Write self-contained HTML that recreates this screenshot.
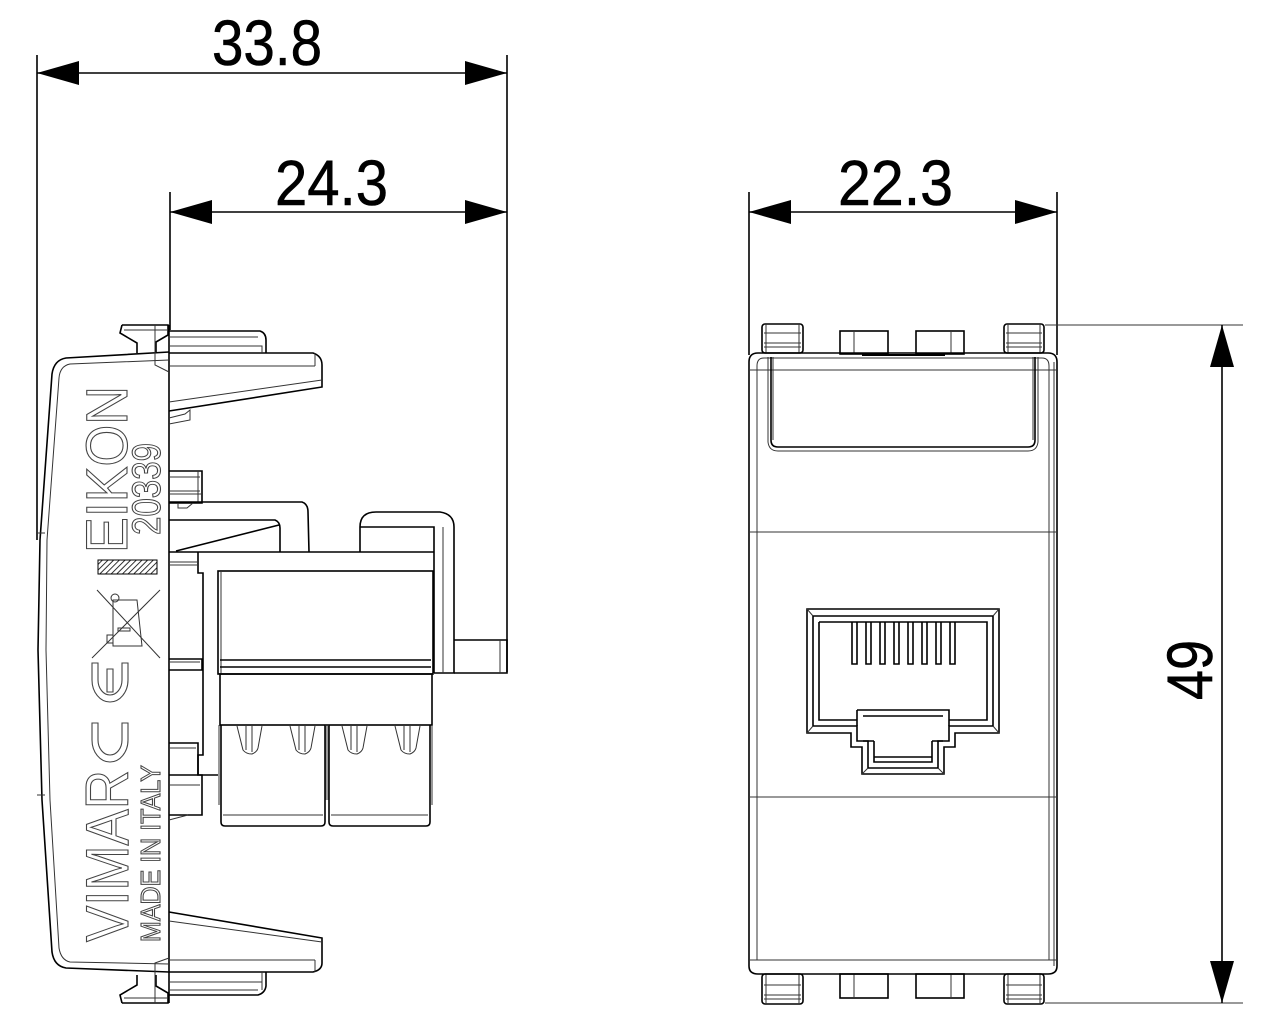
<!DOCTYPE html>
<html><head><meta charset="utf-8"><style>
html,body{margin:0;padding:0;background:#fff;width:1280px;height:1024px;overflow:hidden}
svg{display:block}
.k{fill:none;stroke:#000;stroke-width:1.6}
.t{fill:none;stroke:#333;stroke-width:1}
.g{fill:none;stroke:#444;stroke-width:1.1}
.d{font-family:"Liberation Sans",sans-serif;font-size:64px;fill:#000;stroke:#000;stroke-width:0.6}
.o{font-family:"Liberation Sans",sans-serif;fill:none;stroke:#444;stroke-width:1.1}
</style></head><body>
<svg width="1280" height="1024" viewBox="0 0 1280 1024" xmlns="http://www.w3.org/2000/svg">
<defs>
<pattern id="h" width="4" height="4" patternUnits="userSpaceOnUse" patternTransform="rotate(45)"><line x1="0" y1="0" x2="0" y2="4" stroke="#000" stroke-width="1.6"/></pattern>
</defs>
<!-- dimension 33.8 -->
<line class="k" x1="37" y1="55" x2="37" y2="540"/>
<line class="k" x1="507" y1="55" x2="507" y2="672"/>
<line class="k" x1="37" y1="73" x2="507" y2="73"/>
<polygon points="37,73 79,61 79,85" fill="#000"/>
<polygon points="507,73 465,61 465,85" fill="#000"/>
<text class="d" x="212" y="65" textLength="110" lengthAdjust="spacingAndGlyphs">33.8</text>
<!-- dimension 24.3 -->
<line class="k" x1="170" y1="192" x2="170" y2="330"/>
<line class="k" x1="170" y1="212" x2="507" y2="212"/>
<polygon points="170,212 212,200 212,224" fill="#000"/>
<polygon points="507,212 465,200 465,224" fill="#000"/>
<text class="d" x="275" y="205" textLength="113" lengthAdjust="spacingAndGlyphs">24.3</text>
<!-- dimension 22.3 -->
<line class="k" x1="749" y1="192" x2="749" y2="355"/>
<line class="k" x1="1057" y1="192" x2="1057" y2="355"/>
<line class="k" x1="749" y1="212" x2="1057" y2="212"/>
<polygon points="749,212 791,200 791,224" fill="#000"/>
<polygon points="1057,212 1015,200 1015,224" fill="#000"/>
<text class="d" x="838" y="205" textLength="115" lengthAdjust="spacingAndGlyphs">22.3</text>
<!-- dimension 49 -->
<line class="t" x1="1045" y1="325" x2="1243" y2="325"/>
<line class="t" x1="1045" y1="1003" x2="1243" y2="1003"/>
<line class="k" x1="1222" y1="325" x2="1222" y2="1003"/>
<polygon points="1222,325 1210,367 1234,367" fill="#000"/>
<polygon points="1222,1003 1210,961 1234,961" fill="#000"/>
<text class="d" transform="translate(1212,700) rotate(-90)" x="0" y="0" textLength="60" lengthAdjust="spacingAndGlyphs">49</text>

<!-- ===== LEFT SIDE VIEW ===== -->
<line class="k" x1="169" y1="325" x2="169" y2="1003"/>
<path class="k" d="M169,352 L66,358 Q54,360 52,374 L40,540 L38,650 L42,800 L52,952 Q54,966 66,968 L169,972"/>
<path class="t" d="M169,360 L70,364 Q60,366 59,378 L47,540 L46,650 L50,800 L59,948 Q61,960 70,962 L169,964"/>
<line class="t" x1="37" y1="533" x2="45" y2="533"/>
<line class="t" x1="37" y1="795" x2="45" y2="795"/>
<path class="k" d="M122,325 L168,325 L168,335 L156,342 L156,353 M122,325 L120,333 L137,343 L137,353"/>
<path class="t" d="M155,325 L155,365 L169,372 M124,330 L168,330"/>
<path class="k" d="M169,331 L260,331 Q266,333 266,340 L266,353 M169,353 L313,353 Q322,356 322,365 L322,387 L169,411"/>
<path class="t" d="M169,337 L258,337 M169,346 L262,346 L262,353 M169,366 L315,366 M315,353 L315,366 M169,402 L322,380"/>
<path class="t" d="M169,418 L185,414 L190,410 L190,420 L169,424"/>
<path class="k" d="M169,912 L322,938 L322,963 Q322,970 313,972 L169,972 M266,972 L266,986 Q265,993 258,995 L169,995"/>
<path class="t" d="M169,921 L322,942 M169,960 L315,960 M315,960 L315,972 M169,982 L262,982 M169,990 L258,990 M262,972 L262,990"/>
<path class="k" d="M122,1003 L168,1003 L168,993 L156,986 L156,975 M122,1003 L120,995 L137,985 L137,975"/>
<path class="t" d="M155,1003 L155,963 L169,958 M124,998 L168,998"/>
<path class="k" d="M169,471 L202,471 L202,503 L169,503"/>
<path class="t" d="M169,477 L200,477 M169,491 L200,491 M169,494 L202,494 M198,471 L198,503 M178,503 L178,508 L187,508 L193,503"/>
<path class="k" d="M169,659 L202,659 L202,670 L169,670"/>
<path class="t" d="M169,662 L200,662"/>
<path class="k" d="M169,775 L202,775 L202,815 L169,815"/>
<path class="t" d="M169,785 L200,785 M169,820 L188,815"/>
<path class="k" d="M169,743 L198,743 L198,775"/>
<path class="t" d="M169,748 L196,748"/>
<path class="k" d="M169,502 L302,502 Q308,504 308,512 L309,552"/>
<path class="k" d="M169,520 L275,520 Q280,522 280,528 L280,552"/>
<path class="k" d="M176,551 L279,525"/>
<path class="k" d="M169,552 L434,552 M198,552 L198,573 L203,573 L203,755 L198,755 L198,775 L218,775"/>
<path class="t" d="M169,562 L198,562 M169,565 L198,565"/>
<rect class="k" x="218" y="571" width="215" height="103"/>
<line class="t" x1="221" y1="571" x2="221" y2="674"/>
<line class="k" x1="220" y1="660" x2="431" y2="660"/>
<line class="k" x1="220" y1="667" x2="431" y2="667"/>
<rect class="k" x="220" y="674" width="212" height="51"/>
<path class="k" d="M360,552 L360,527 Q360,512 376,512 L440,512 Q454,514 454,527 L454,673 L434,673 M360,527 L434,527 L434,673"/>
<line class="t" x1="443" y1="527" x2="443" y2="673"/>
<path class="k" d="M454,640 L507,640 L507,673 L454,673"/>
<line class="t" x1="500" y1="640" x2="500" y2="673"/>
<path class="k" d="M221,725 L221,822 Q221,826 225,826 L321,826 Q325,826 325,822 L325,725"/>
<path class="k" d="M329,725 L329,822 Q329,826 333,826 L426,826 Q430,826 430,822 L430,725"/>
<path class="t" d="M223,815 L323,815 M331,815 L428,815 M219,725 L219,805 M432,725 L432,805 M326,725 L326,800 M328,725 L328,800"/>
<g class="t">
<path d="M237,726 L243,750 Q246,754 252,754 Q257,752 258,748 L262,726 M246,726 L246,750 M252,726 L252,752"/>
<path d="M290,726 L296,750 Q299,754 305,754 Q310,752 311,748 L315,726 M299,726 L299,750 M305,726 L305,752"/>
<path d="M342,726 L348,750 Q351,754 357,754 Q362,752 363,748 L367,726 M351,726 L351,750 M357,726 L357,752"/>
<path d="M395,726 L401,750 Q404,754 410,754 Q415,752 416,748 L420,726 M404,726 L404,750 M410,726 L410,752"/>
</g>
<text class="o" transform="translate(127,553) rotate(-90)" font-size="58" textLength="167" lengthAdjust="spacingAndGlyphs">EIKON</text>
<text class="o" transform="translate(160,535) rotate(-90)" font-size="40" textLength="92" lengthAdjust="spacingAndGlyphs">20339</text>
<rect x="98" y="560" width="59" height="14" fill="url(#h)" stroke="#000" stroke-width="1"/>
<g class="t">
<line x1="97" y1="590" x2="160" y2="658"/><line x1="92" y1="658" x2="160" y2="590"/>
<path d="M113,600 L137,600 L142,646 L113,646 Z"/>
<circle cx="115" cy="598" r="4"/>
<rect x="107" y="635" width="6" height="8"/>
<rect x="118" y="628" width="12" height="3"/>
</g>
<!-- CE symbol (rotated) -->
<g class="g">
<path d="M92,663 L92,680 A18,22 0 0 0 128,680 L128,663 L122,663 L122,680 A12,15 0 0 1 98,680 L98,663 Z"/>
<path d="M107,669 L113,669 L113,692 L107,692 Z"/>
<path d="M92,723 L92,740 A18,22 0 0 0 128,740 L128,723 L122,723 L122,740 A12,15 0 0 1 98,740 L98,723 Z"/>
</g>
<text class="o" transform="translate(128,942) rotate(-90)" font-size="60" textLength="172" lengthAdjust="spacingAndGlyphs">VIMAR</text>
<text class="o" transform="translate(160,942) rotate(-90)" font-size="28" textLength="177" lengthAdjust="spacingAndGlyphs">MADE IN ITALY</text>

<!-- ===== RIGHT FRONT VIEW ===== -->
<g>
<rect class="k" x="762" y="324" width="41" height="29" rx="3"/>
<path class="t" d="M764,333 L801,333 M764,343 L801,343 M764,347 L801,347 M766,324 L766,353 M799,324 L799,353"/>
<rect class="k" x="1004" y="324" width="40" height="29" rx="3"/>
<path class="t" d="M1006,333 L1042,333 M1006,343 L1042,343 M1006,347 L1042,347 M1008,324 L1008,353 M1040,324 L1040,353"/>
<rect class="k" x="840" y="331" width="48" height="23"/>
<line class="t" x1="854" y1="331" x2="854" y2="354"/>
<rect class="k" x="916" y="331" width="48" height="23"/>
<line class="t" x1="951" y1="331" x2="951" y2="354"/>
<line x1="862" y1="355" x2="945" y2="355" stroke="#000" stroke-width="2"/>
</g>
<g>
<rect class="k" x="762" y="974" width="41" height="30" rx="3"/>
<path class="t" d="M764,985 L801,985 M764,995 L801,995 M764,999 L801,999 M766,974 L766,1004 M799,974 L799,1004"/>
<rect class="k" x="1004" y="974" width="40" height="30" rx="3"/>
<path class="t" d="M1006,985 L1042,985 M1006,995 L1042,995 M1006,999 L1042,999 M1008,974 L1008,1004 M1040,974 L1040,1004"/>
<rect class="k" x="840" y="974" width="48" height="24"/>
<line class="t" x1="854" y1="974" x2="854" y2="998"/>
<rect class="k" x="916" y="974" width="48" height="24"/>
<line class="t" x1="951" y1="974" x2="951" y2="998"/>
</g>
<path class="k" d="M749,362 Q749,353 758,353 L1048,353 Q1057,353 1057,362 L1057,966 Q1057,974 1048,974 L758,974 Q749,974 749,966 Z"/>
<path class="t" d="M757,366 Q757,358 764,358 L1042,358 Q1049,358 1049,366 L1049,960 L757,960 Z"/>
<line class="t" x1="749" y1="370" x2="1057" y2="370"/>
<line class="t" x1="749" y1="960" x2="1057" y2="960"/>
<line class="t" x1="1054" y1="362" x2="1054" y2="966"/>
<path class="k" d="M771,357 L771,440 Q771,447 778,447 L1028,447 Q1035,447 1035,440 L1035,357"/>
<path class="t" d="M768,357 L768,442 Q769,451 778,451 L1028,451 Q1037,451 1038,442 L1038,357"/>
<line class="t" x1="773" y1="357" x2="773" y2="440"/>
<line class="t" x1="1033" y1="357" x2="1033" y2="440"/>
<line class="t" x1="749" y1="532" x2="1057" y2="532"/>
<line class="t" x1="749" y1="797" x2="1057" y2="797"/>
<path class="k" d="M807,609 L999,609 L999,733 L955,733 L955,747 L944,747 L944,774 L862,774 L862,747 L851,747 L851,733 L807,733 Z"/>
<path class="k" d="M813,616 L993,616 L993,726 L949,726 L949,741 L938,741 L938,768 L868,768 L868,741 L857,741 L857,726 L813,726 Z"/>
<path class="t" d="M807,609 L813,616 M999,609 L993,616 M807,733 L813,726 M999,733 L993,726 M862,774 L868,768 M944,774 L938,768"/>
<path class="k" d="M819,622 L987,622 L987,720 L949,720 M819,622 L819,720 L857,720"/>
<path class="k" d="M857,710 L949,710 L949,726 M857,710 L857,726 M863,716 L943,716 M874,741 L874,762 L932,762 L932,741 M874,741 L863,741 M932,741 L943,741 M874,757 L932,757"/>
<g class="k">
<path d="M852,622 L852,664 L857,664 L857,622"/>
<path d="M866,622 L866,664 L871,664 L871,622"/>
<path d="M880,622 L880,664 L885,664 L885,622"/>
<path d="M894,622 L894,664 L899,664 L899,622"/>
<path d="M908,622 L908,664 L913,664 L913,622"/>
<path d="M922,622 L922,664 L927,664 L927,622"/>
<path d="M936,622 L936,664 L941,664 L941,622"/>
<path d="M950,622 L950,664 L955,664 L955,622"/>
</g>
</svg>
</body></html>
